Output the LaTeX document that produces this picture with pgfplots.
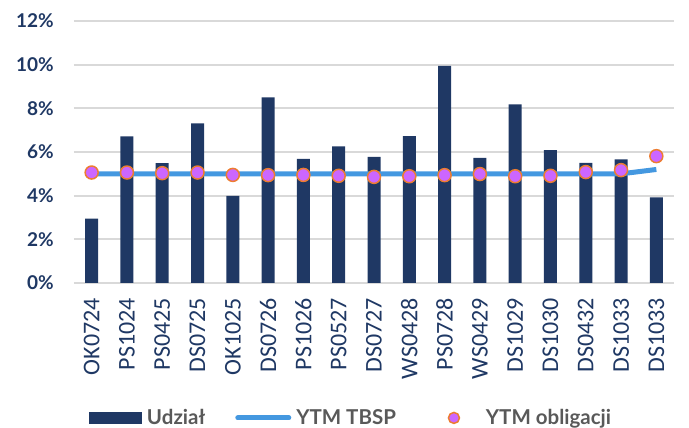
\documentclass[border=0pt]{standalone}
\usepackage{pgfplots}
\pgfplotsset{compat=1.18}
\usepackage{fontspec}
\setmainfont{Lato}
\newfontfamily\carlito{Carlito}
\definecolor{navy}{RGB}{31,56,100}
\definecolor{lineblue}{RGB}{68,152,224}
\definecolor{dotfill}{RGB}{204,102,255}
\definecolor{dotedge}{RGB}{237,125,49}
\definecolor{gridgray}{RGB}{217,217,217}
\definecolor{legendgray}{RGB}{89,89,89}
\begin{document}
\begin{tikzpicture}
\begin{axis}[
  scale only axis,
  width=600pt, height=262pt,
  xmin=-0.5, xmax=16.5,
  ymin=0, ymax=12,
  clip=false,
  axis line style={draw=none},
  major tick length=0pt,
  ymajorgrids,
  major grid style={draw=gridgray, line width=2pt},
  ytick={0,2,4,6,8,10,12},
  yticklabels={0\%,2\%,4\%,6\%,8\%,10\%,12\%},
  yticklabel style={font=\bfseries\fontsize{19}{22}\selectfont, text=navy, inner sep=0pt, anchor=east, xshift=-20pt},
  xtick={0,...,16},
  xticklabels={OK0724,PS1024,PS0425,DS0725,OK1025,DS0726,PS1026,PS0527,DS0727,WS0428,PS0728,WS0429,DS1029,DS1030,DS0432,DS1033,DS1033},
  xticklabel style={font=\carlito\fontsize{24}{28}\selectfont, text=navy, inner sep=0pt, rotate=90, anchor=east},
  xticklabel shift=15pt,
  legend columns=3,
  legend style={draw=none, fill=none, inner sep=0pt, outer sep=0pt,
    at={(0.025,-0.515)}, anchor=west,
    font=\bfseries\fontsize{20.5}{24}\selectfont, text=legendgray,
    nodes={inner sep=0pt},
    /tikz/every odd column/.append style={column sep=5pt},
    /tikz/every even column/.append style={column sep=30pt}},
]
\addplot[ybar, bar width=13pt, bar shift=0pt, fill=navy, draw=none,
  legend image code/.code={\fill[navy] (0pt,-6pt) rectangle (53pt,6pt);}]
  coordinates {(0,2.95) (1,6.71) (2,5.49) (3,7.31) (4,3.99) (5,8.50) (6,5.69) (7,6.26) (8,5.78) (9,6.73) (10,9.94) (11,5.73) (12,8.18) (13,6.09) (14,5.50) (15,5.66) (16,3.92)};
\addlegendentry{Udział}
\addplot[lineblue, line width=5pt, no marks,
  legend image code/.code={\draw[lineblue, line width=5pt, line cap=round] (2pt,0pt) -- (53pt,0pt);}]
  coordinates {(0,5.0) (1,5.0) (2,5.0) (3,5.0) (4,5.0) (5,5.0) (6,5.0) (7,5.0) (8,5.0) (9,5.0) (10,5.0) (11,5.0) (12,5.0) (13,5.0) (14,5.0) (15,5.0) (16,5.2)};
\addlegendentry{YTM TBSP}
\addplot[only marks, mark=*, mark size=6.5pt, mark options={fill=dotfill, draw=dotedge, line width=1.5pt},
  legend image code/.code={\path[draw=none, fill=none] (0pt,-6pt) rectangle (55pt,6pt);\path[fill=dotfill, draw=dotedge, line width=1.5pt] (28pt,0pt) circle (5.5pt);}]
  coordinates {(0,5.06) (1,5.06) (2,5.03) (3,5.06) (4,4.95) (5,4.94) (6,4.95) (7,4.91) (8,4.86) (9,4.89) (10,4.94) (11,4.99) (12,4.89) (13,4.91) (14,5.08) (15,5.17) (16,5.81)};
\addlegendentry{YTM obligacji}
\end{axis}
\pgfresetboundingbox
\path (current axis.south west) ++(-74pt,-145pt) rectangle ++(689pt,428pt);
\end{tikzpicture}
\end{document}
